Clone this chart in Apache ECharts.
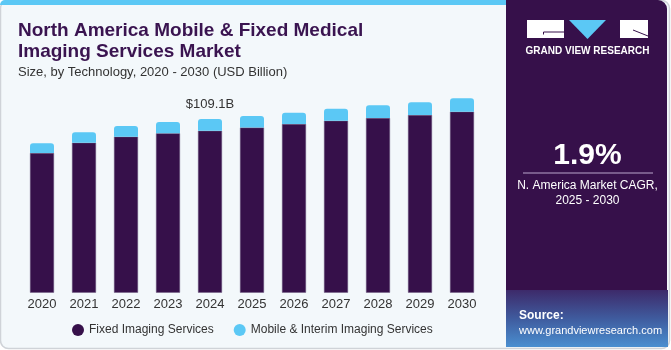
<!DOCTYPE html>
<html>
<head>
<meta charset="utf-8">
<script src="https://cdn.jsdelivr.net/npm/echarts@6/dist/echarts.min.js"></script>
<style>
  html, body { margin: 0; padding: 0; background: #ffffff; }
  #main { width: 671px; height: 350px; }
</style>
</head>
<body>
<div id="main"></div>
<script>
var years = ['2020', '2021', '2022', '2023', '2024', '2025', '2026', '2027', '2028', '2029', '2030'];
var fixedImaging = [87.7, 94.2, 98.0, 100.1, 101.7, 103.7, 105.9, 108.0, 109.7, 111.6, 113.7];
var mobileImaging = [6.1, 6.5, 6.7, 7.1, 7.4, 7.3, 7.1, 7.6, 8.0, 8.0, 8.4];
var labelYear = '2024';
var labelText = '$109.1B';

var myChart = echarts.init(document.getElementById('main'));

var font = 'Liberation Sans, Arial, sans-serif';

let option = {
    backgroundColor: '#ffffff',
    animation: false,
    title: {
        text: 'North America Mobile & Fixed Medical\nImaging Services Market',
        subtext: 'Size, by Technology, 2020 - 2030 (USD Billion)',
        left: 13,
        top: 15,
        itemGap: 4,
        textStyle: {
            fontFamily: font,
            fontWeight: 'bold',
            fontSize: 19,
            lineHeight: 21,
            color: '#3a1450'
        },
        subtextStyle: {
            fontFamily: font,
            fontSize: 13,
            color: '#333'
        }
    },
    legend: {
        bottom: 9,
        left: 67,
        icon: 'circle',
        itemWidth: 12,
        itemHeight: 12,
        itemGap: 20,
        itemStyle: { borderWidth: 0 },
        textStyle: { fontFamily: font, fontSize: 12, color: '#333' },
        data: ['Fixed Imaging Services', 'Mobile & Interim Imaging Services']
    },
    grid: {
        left: 21,
        top: 85.7,
        width: 462,
        bottom: 57.3
    },
    xAxis: {
        type: 'category',
        data: years,
        axisLine: { show: false },
        axisTick: { show: false },
        axisLabel: { fontFamily: font, fontSize: 13, color: '#333', margin: 5 }
    },
    yAxis: {
        type: 'value',
        min: 0,
        max: 130,
        show: false,
        splitLine: { show: false }
    },
    series: [
        {
            name: 'Fixed Imaging Services',
            type: 'bar',
            stack: 'total',
            barWidth: 24,
            data: fixedImaging,
            itemStyle: { color: '#36104a', borderColor: '#6e5a80', borderWidth: 0.5 }
        },
        {
            name: 'Mobile & Interim Imaging Services',
            type: 'bar',
            stack: 'total',
            barWidth: 24,
            data: mobileImaging.map(function (v, i) {
                var item = { value: v };
                if (years[i] === labelYear) {
                    item.label = {
                        show: true,
                        position: 'top',
                        distance: 8,
                        formatter: labelText,
                        fontFamily: font,
                        fontSize: 13,
                        color: '#333'
                    };
                }
                return item;
            }),
            itemStyle: { color: '#5bc8f5', borderRadius: [3, 3, 0, 0] }
        }
    ],
    graphic: [
        // card background and border
        { type: 'rect', z: -10, shape: { x: 0.5, y: 0.5, width: 669, height: 348, r: 8 }, style: { fill: '#f3f8fb', stroke: '#cfd3d8', lineWidth: 1.5 } },
        { type: 'rect', z: -9, shape: { x: 0, y: 0, width: 506, height: 5, r: [8, 0, 0, 0] }, style: { fill: '#5bc8f5' } },
        { type: 'rect', z: -9, shape: { x: 506, y: 0, width: 161, height: 347, r: [0, 9, 0, 0] }, style: { fill: '#36104a' } },
        {
            type: 'rect', z: -8,
            shape: { x: 506, y: 290, width: 162, height: 57 },
            style: {
                fill: new echarts.graphic.LinearGradient(0, 0, 0, 1, [
                    { offset: 0, color: '#3d2a6a' },
                    { offset: 0.5, color: '#3f5b9e' },
                    { offset: 1, color: '#4a8fd0' }
                ])
            }
        },
        // logo
        { type: 'rect', shape: { x: 527, y: 20, width: 37, height: 18 }, style: { fill: '#ffffff' } },
        { type: 'polyline', shape: { points: [[543.5, 34.5], [543.5, 32], [564, 32]] }, style: { stroke: '#36104a', lineWidth: 1, fill: null } },
        { type: 'polygon', shape: { points: [[569, 20], [606, 20], [587.5, 39]] }, style: { fill: '#5bc8f5' } },
        { type: 'rect', shape: { x: 620, y: 20, width: 28, height: 18 }, style: { fill: '#ffffff' } },
        { type: 'line', shape: { x1: 633, y1: 30, x2: 648, y2: 36 }, style: { stroke: '#36104a', lineWidth: 1 } },
        {
            type: 'text', x: 587.5, y: 51,
            style: { text: 'GRAND VIEW RESEARCH', fill: '#ffffff', font: 'bold 10px ' + font, align: 'center', verticalAlign: 'middle' }
        },
        {
            type: 'text', x: 587.5, y: 156,
            style: { text: '1.9%', fill: '#ffffff', font: 'bold 30px ' + font, align: 'center', verticalAlign: 'middle' }
        },
        { type: 'rect', shape: { x: 523, y: 172.5, width: 130, height: 1 }, style: { fill: '#b9a6cc' } },
        {
            type: 'text', x: 587.5, y: 186,
            style: { text: 'N. America Market CAGR,', fill: '#ffffff', font: '12px ' + font, align: 'center', verticalAlign: 'middle' }
        },
        {
            type: 'text', x: 587.5, y: 201,
            style: { text: '2025 - 2030', fill: '#ffffff', font: '12px ' + font, align: 'center', verticalAlign: 'middle' }
        },
        {
            type: 'text', x: 519, y: 316,
            style: { text: 'Source:', fill: '#ffffff', font: 'bold 12px ' + font, verticalAlign: 'middle' }
        },
        {
            type: 'text', x: 519, y: 331,
            style: { text: 'www.grandviewresearch.com', fill: '#ffffff', font: '11px ' + font, verticalAlign: 'middle' }
        }
    ]
};

myChart.setOption(option);
</script>
</body>
</html>
